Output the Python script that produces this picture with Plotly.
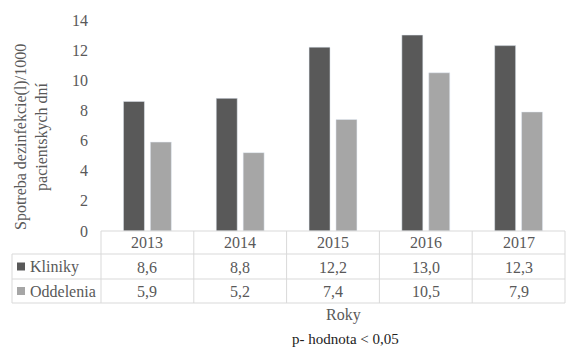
import plotly.graph_objects as go

years = ["2013", "2014", "2015", "2016", "2017"]
kliniky = [8.6, 8.8, 12.2, 13.0, 12.3]
oddelenia = [5.9, 5.2, 7.4, 10.5, 7.9]
kliniky_lbl = ["8,6", "8,8", "12,2", "13,0", "12,3"]
oddelenia_lbl = ["5,9", "5,2", "7,4", "10,5", "7,9"]
series_names = ["Kliniky", "Oddelenia"]
y_title = "Spotreba dezinfekcie(l)/1000<br>pacientskych dní"
x_title = "Roky"
note = "p- hodnota < 0,05"

W, H = 566, 348
L, R, T, B = 101, 1, 20, 117
PW, PH = W - L - R, H - T - B

def px(xp):
    return (xp - L) / PW

def py(yp):
    return (H - B - yp) / PH

DARK = "#595959"
LIGHT = "#a6a6a6"
GRID = "#d9d9d9"
TXT = "#595959"
FONT = "'Liberation Serif', 'Times New Roman', serif"

fig = go.Figure()
fig.add_trace(go.Bar(x=years, y=kliniky, name=series_names[0], marker_color=DARK))
fig.add_trace(go.Bar(x=years, y=oddelenia, name=series_names[1], marker_color=LIGHT))

shapes = []
n = len(years)
y_top, y_r1, y_r2, y_bot = 231, 254, 279, 303
x_left = 12
line = dict(color=GRID, width=1)
shapes.append(dict(type="line", xref="paper", yref="paper", x0=0, x1=1, y0=py(y_top), y1=py(y_top), line=line))
for yy in (y_r1, y_r2, y_bot):
    shapes.append(dict(type="line", xref="paper", yref="paper", x0=px(x_left), x1=1, y0=py(yy), y1=py(yy), line=line))
for i in range(n + 1):
    shapes.append(dict(type="line", xref="paper", yref="paper", x0=i / n, x1=i / n, y0=py(y_top), y1=py(y_bot), line=line))
shapes.append(dict(type="line", xref="paper", yref="paper", x0=px(x_left), x1=px(x_left), y0=py(y_r1), y1=py(y_bot), line=line))
for color, yc in ((DARK, 266.5), (LIGHT, 291)):
    shapes.append(dict(type="rect", xref="paper", yref="paper", x0=px(17), x1=px(25), y0=py(yc + 4), y1=py(yc - 4),
                       fillcolor=color, line=dict(width=0)))

ann = []
f = dict(family=FONT, size=16, color=TXT)

def A(x, y, text, xref="paper", xanchor="center", font=f, **kw):
    return dict(x=x, xref=xref, y=y, yref="paper", text=text, showarrow=False, font=font,
                xanchor=xanchor, yanchor="middle", **kw)

for i, yr in enumerate(years):
    ann.append(A(i, py(242.5), yr, xref="x"))
    ann.append(A(i, py(267), kliniky_lbl[i], xref="x"))
    ann.append(A(i, py(291.5), oddelenia_lbl[i], xref="x"))
ann.append(A(px(28), py(267), series_names[0], xanchor="left"))
ann.append(A(px(28), py(291.5), series_names[1], xanchor="left"))
ann.append(A(px(343), py(315), x_title))
ann.append(A(px(345), py(339), note, font=dict(family=FONT, size=15, color="#222222")))
ann.append(A(px(31), py(137), y_title, textangle=-90))

fig.update_layout(
    width=W, height=H, margin=dict(l=L, r=R, t=T, b=B),
    paper_bgcolor="white", plot_bgcolor="white",
    barmode="group", bargap=0.42, bargroupgap=0.22,
    showlegend=False,
    shapes=shapes, annotations=ann,
    font=dict(family=FONT, size=16, color=TXT),
)
fig.update_xaxes(type="category", range=[-0.5, 4.5], showticklabels=False, showline=False, showgrid=False, zeroline=False)
fig.update_yaxes(range=[0, 14], dtick=2, showgrid=False, zeroline=False, showline=False,
                 tickfont=dict(family=FONT, size=16, color=TXT), ticklabelstandoff=12)

fig.write_html("out.html")
